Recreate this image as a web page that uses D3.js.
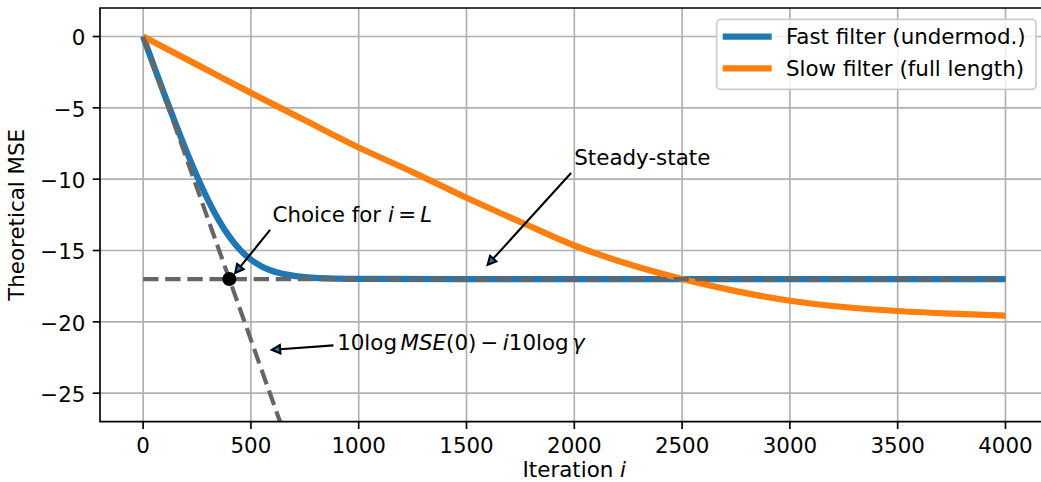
<!DOCTYPE html>
<html><head><meta charset="utf-8">
<script src="https://cdn.jsdelivr.net/npm/d3@7"></script>
<style>
html,body{margin:0;padding:0;background:#fff;}
svg{display:block;font-family:"DejaVu Sans",sans-serif;}
</style></head>
<body><svg id="chart" width="1041" height="482"></svg>
<script>
// ---- data ----
const xTicks = [0, 500, 1000, 1500, 2000, 2500, 3000, 3500, 4000];
const yTicks = [0, -5, -10, -15, -20, -25];
const fastIter = [0,50,100,150,200,250,300,350,400,450,500,550,600,700,800,900,1000,1500,2000,2500,3000,3500,4000];
const fastMSE  = [0,-2.07,-4.11,-6.09,-8.00,-9.80,-11.43,-12.85,-14.03,-14.96,-15.64,-16.12,-16.44,-16.78,-16.92,-16.97,-16.99,-17,-17,-17,-17,-17,-17];
const slowIter = [0,250,500,750,1000,1250,1500,1750,2000,2250,2500,2750,3000,3250,3500,3750,4000];
const slowMSE  = [0,-1.97,-3.95,-5.87,-7.78,-9.5,-11.3,-13.0,-14.65,-15.95,-17.0,-17.85,-18.52,-18.96,-19.24,-19.43,-19.56];
const seriesNames = ["Fast filter (undermod.)", "Slow filter (full length)"];
const steadyLevel = -17;          // dB
const choiceIter = 400;           // i = L
const tangentIter = [0, 635];
const tangentMSE = [0, -27];
// annotations: [tailX, tailY, headX, headY] in data units
const arrowChoice = [589, -13.55, 427, -16.58];
const arrowSteady = [1985, -9.57, 1598, -16.0];
const arrowFormula = [883, -21.65, 597, -21.96];
const textChoicePos = [600, -13];
const textSteadyPos = [2000, -9];
const textFormulaPos = [900, -22];

// ---- layout ----
const svg = d3.select("#chart");
const L = 100, R = 1048.6, T = 8, B = 421.7;
const x = d3.scaleLinear().domain([-200, 4200]).range([L, R]);
const y = d3.scaleLinear().domain([-27, 2]).range([B, T]);
const FS = 21.4, LW = 1.67;
const C0 = "#1f77b4", C1 = "#ff7f0e";
const fmt = v => (v < 0 ? "\u2212" + Math.abs(v) : String(v));

svg.append("defs").append("clipPath").attr("id", "clip")
  .append("rect").attr("x", L).attr("y", T).attr("width", R - L).attr("height", B - T);

// grid
const grid = svg.append("g");
xTicks.forEach(t => grid.append("line").attr("x1", x(t)).attr("x2", x(t)).attr("y1", T).attr("y2", B)
  .attr("stroke", "#b0b0b0").attr("stroke-width", LW));
yTicks.forEach(t => grid.append("line").attr("x1", L).attr("x2", R).attr("y1", y(t)).attr("y2", y(t))
  .attr("stroke", "#b0b0b0").attr("stroke-width", LW));

const plot = svg.append("g").attr("clip-path", "url(#clip)");
const line = d3.line().x(d => x(d[0])).y(d => y(d[1])).curve(d3.curveMonotoneX);
plot.append("path").datum(fastIter.map((v, i) => [v, fastMSE[i]]))
  .attr("d", line).attr("fill", "none").attr("stroke", C0).attr("stroke-width", 6.25);
plot.append("path").datum(slowIter.map((v, i) => [v, slowMSE[i]]))
  .attr("d", line).attr("fill", "none").attr("stroke", C1).attr("stroke-width", 6.25);

// dashed guides
const lin = d3.line().x(d => x(d[0])).y(d => y(d[1]));
plot.append("path").datum([[0, steadyLevel], [4000, steadyLevel]]).attr("d", lin)
  .attr("fill", "none").attr("stroke", "#666666").attr("stroke-width", 4.17).attr("stroke-dasharray", "15.4,6.7");
plot.append("path").datum(tangentIter.map((v, i) => [v, tangentMSE[i]])).attr("d", lin)
  .attr("fill", "none").attr("stroke", "#666666").attr("stroke-width", 4.17).attr("stroke-dasharray", "15.4,6.7");

// marker
plot.append("circle").attr("cx", x(choiceIter)).attr("cy", y(steadyLevel)).attr("r", 7).attr("fill", "#000");

// spines
svg.append("line").attr("x1", L).attr("x2", L).attr("y1", T).attr("y2", B).attr("stroke", "#000").attr("stroke-width", LW);
svg.append("line").attr("x1", L - 0.8).attr("x2", R).attr("y1", B).attr("y2", B).attr("stroke", "#000").attr("stroke-width", LW);
svg.append("line").attr("x1", L - 0.8).attr("x2", R).attr("y1", T).attr("y2", T).attr("stroke", "#000").attr("stroke-width", LW);

// ticks + labels
xTicks.forEach(t => {
  svg.append("line").attr("x1", x(t)).attr("x2", x(t)).attr("y1", B).attr("y2", B + 7.3).attr("stroke", "#000").attr("stroke-width", LW);
  svg.append("text").attr("x", x(t)).attr("y", 453).attr("text-anchor", "middle").attr("font-size", FS).text(fmt(t));
});
yTicks.forEach(t => {
  svg.append("line").attr("x1", L - 7.3).attr("x2", L).attr("y1", y(t)).attr("y2", y(t)).attr("stroke", "#000").attr("stroke-width", LW);
  svg.append("text").attr("x", L - 14.6).attr("y", y(t) + 8.8).attr("text-anchor", "end").attr("font-size", FS).text(fmt(t));
});

// axis labels
const xl = svg.append("text").attr("x", (L + R) / 2).attr("y", 476.5).attr("text-anchor", "middle").attr("font-size", FS);
xl.append("tspan").text("Iteration ");
xl.append("tspan").attr("font-style", "italic").text("i");
svg.append("text").attr("transform", `translate(24,${(T + B) / 2}) rotate(-90)`)
  .attr("text-anchor", "middle").attr("font-size", FS).text("Theoretical MSE");

// annotations
function arrow(a) {
  const x1 = x(a[0]), y1 = y(a[1]), x2 = x(a[2]), y2 = y(a[3]);
  const dx = x2 - x1, dy = y2 - y1, len = Math.hypot(dx, dy);
  const ux = dx / len, uy = dy / len, hl = 8.3, hw = 4.2;
  const bx = x2 - ux * hl, by = y2 - uy * hl;
  svg.append("line").attr("x1", x1).attr("y1", y1).attr("x2", bx).attr("y2", by)
    .attr("stroke", "#000").attr("stroke-width", 2.08);
  svg.append("path").attr("d", `M${x2},${y2}L${bx - uy * hw},${by + ux * hw}L${bx + uy * hw},${by - ux * hw}Z`)
    .attr("fill", C0).attr("stroke", "#000").attr("stroke-width", 2.08).attr("stroke-linejoin", "miter");
}
arrow(arrowChoice); arrow(arrowSteady); arrow(arrowFormula);

const t1 = svg.append("text").attr("x", x(textChoicePos[0])).attr("y", y(textChoicePos[1])).attr("font-size", FS);
t1.append("tspan").text("Choice for ");
t1.append("tspan").attr("font-style", "italic").text("i");
t1.append("tspan").text("\u2009=\u2009");
t1.append("tspan").attr("font-style", "italic").text("L");

svg.append("text").attr("x", x(textSteadyPos[0])).attr("y", y(textSteadyPos[1])).attr("font-size", FS).text("Steady-state");

const t3 = svg.append("text").attr("x", x(textFormulaPos[0])).attr("y", y(textFormulaPos[1])).attr("font-size", FS);
t3.append("tspan").text("10log");
t3.append("tspan").attr("dx", 3.5).attr("font-style", "italic").text("MSE");
t3.append("tspan").text("(0)\u2009\u2212\u2009");
t3.append("tspan").attr("font-style", "italic").text("i");
t3.append("tspan").text("10log");
t3.append("tspan").attr("dx", 3.5).attr("font-style", "italic").text("\u03b3");

// legend
const lg = svg.append("g");
lg.append("rect").attr("x", 716.7).attr("y", 19.3).attr("width", 319.3).attr("height", 70).attr("rx", 4)
  .attr("fill", "#fff").attr("fill-opacity", 0.8).attr("stroke", "#cccccc").attr("stroke-width", LW);
[C0, C1].forEach((c, i) => {
  const yy = 36.7 + i * 31.6;
  lg.append("line").attr("x1", 722.7).attr("x2", 771.7).attr("y1", yy).attr("y2", yy).attr("stroke", c).attr("stroke-width", 6.25);
  lg.append("text").attr("x", 786).attr("y", yy + 7.6).attr("font-size", FS).text(seriesNames[i]);
});
</script></body></html>
